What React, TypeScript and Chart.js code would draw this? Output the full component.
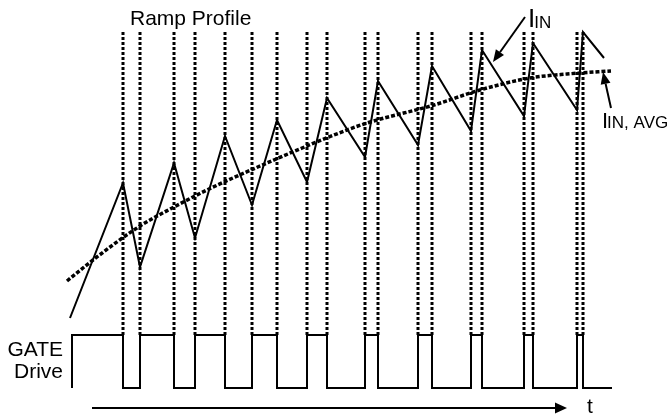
import React, { useEffect, useRef } from "react";
import { Chart, registerables } from "chart.js";

Chart.register(...registerables);

// Time axis (µs-like units), switching edges of the gate drive
const switchTimes = [0, 5.1, 6.8, 10.2, 12.3, 15.3, 18.0, 20.5, 23.5, 25.5, 29.3, 30.6, 34.6, 36.0, 39.9, 41.0, 45.2, 46.1, 50.5, 51.1];
// Gate level after each edge (1 = high, 0 = low)
const gateStates = [1, 0, 1, 0, 1, 0, 1, 0, 1, 0, 1, 0, 1, 0, 1, 0, 1, 0, 1, 0];
const gateEndTime = 54.0;

// Inductor / input current at each switching edge (after the first)
const currentAtSwitch = [1.52, 0.68, 1.72, 0.97, 1.99, 1.30, 2.15, 1.53, 2.37, 1.78, 2.54, 1.90, 2.69, 2.04, 2.85, 2.19, 2.92, 2.25, 3.03];
const currentStart = { t: -0.2, i: 0.17 };
const currentEnd = { t: 53.2, i: 2.77 };

// Average input current (dotted curve)
const avgTimes = [-0.5, 2.1, 6.8, 10.2, 13.5, 19.5, 26.2, 29.5, 36.2, 40.8, 45.8, 49.5, 53.9];
const avgCurrent = [0.54, 0.75, 1.09, 1.28, 1.45, 1.72, 2.00, 2.12, 2.30, 2.45, 2.57, 2.61, 2.64];

const verticalTop = 3.03;

export default function App() {
  const ref = useRef<HTMLCanvasElement | null>(null);

  useEffect(() => {
    if (!ref.current) return;

    const currentData: { x: number; y: number }[] = [{ x: currentStart.t, y: currentStart.i }];
    switchTimes.slice(1).forEach((t, k) => currentData.push({ x: t, y: currentAtSwitch[k] }));
    currentData.push({ x: currentEnd.t, y: currentEnd.i });

    const gateData: { x: number; y: number }[] = [{ x: switchTimes[0], y: 0 }];
    switchTimes.forEach((t, k) => gateData.push({ x: t, y: gateStates[k] }));
    gateData.push({ x: gateEndTime, y: gateStates[gateStates.length - 1] });

    const vertData: { x: number; y: number | null }[] = [];
    switchTimes.slice(1).forEach((t) => {
      vertData.push({ x: t, y: 0 });
      vertData.push({ x: t, y: verticalTop });
      vertData.push({ x: t, y: null });
    });

    const avgData = avgTimes.map((t, k) => ({ x: t, y: avgCurrent[k] }));

    const FONT = "'Liberation Sans', Arial, sans-serif";

    const annot = {
      id: "annot",
      afterDatasetsDraw(chart: any) {
        const ctx = chart.ctx as CanvasRenderingContext2D;
        const xs = chart.scales.x;
        const ys = chart.scales.y;
        const yg = chart.scales.yg;
        const px = (t: number) => xs.getPixelForValue(t);
        const py = (v: number) => ys.getPixelForValue(v);
        const pg = (v: number) => yg.getPixelForValue(v);

        const arrow = (x1: number, y1: number, x2: number, y2: number, len: number, hw: number, lw: number) => {
          const a = Math.atan2(y2 - y1, x2 - x1);
          const bx = x2 - len * Math.cos(a);
          const by = y2 - len * Math.sin(a);
          ctx.save();
          ctx.strokeStyle = "#000";
          ctx.fillStyle = "#000";
          ctx.lineWidth = lw;
          ctx.setLineDash([]);
          ctx.beginPath();
          ctx.moveTo(x1, y1);
          ctx.lineTo(bx, by);
          ctx.stroke();
          ctx.beginPath();
          ctx.moveTo(x2, y2);
          ctx.lineTo(bx + hw * Math.sin(a), by - hw * Math.cos(a));
          ctx.lineTo(bx - hw * Math.sin(a), by + hw * Math.cos(a));
          ctx.closePath();
          ctx.fill();
          ctx.restore();
        };

        // arrows
        arrow(px(45.3), py(3.18), px(42.1), py(2.73), 12, 5, 2);
        arrow(px(53.9), py(2.27), px(53.1), py(2.63), 12, 5, 2);
        arrow(px(2.0), pg(-0.377), px(49.5), pg(-0.377), 12, 5.5, 2);

        ctx.save();
        ctx.fillStyle = "#000";
        ctx.textBaseline = "alphabetic";
        ctx.font = `21px ${FONT}`;
        ctx.textAlign = "left";
        ctx.fillText("Ramp Profile", px(5.8), py(3.10));
        ctx.fillText("t", px(51.5), pg(-0.47));
        ctx.textAlign = "right";
        ctx.fillText("GATE", px(-0.9), pg(0.60));
        ctx.fillText("Drive", px(-0.9), pg(0.19));

        ctx.textAlign = "left";
        // I_IN label
        ctx.font = `26px ${FONT}`;
        const x1 = px(45.6);
        const b1 = py(3.085);
        ctx.fillText("I", x1, b1);
        const w1 = ctx.measureText("I").width;
        ctx.font = `17px ${FONT}`;
        ctx.fillText("IN", x1 + w1 - 1, b1 + 1);

        // I_IN,AVG label
        ctx.font = `22px ${FONT}`;
        const x2 = px(53.0);
        const b2 = py(2.07);
        ctx.fillText("I", x2, b2);
        const w2 = ctx.measureText("I").width;
        ctx.font = `17px ${FONT}`;
        ctx.fillText("IN, AVG", x2 + w2 - 1, b2);
        ctx.restore();
      },
    };

    const chart = new Chart(ref.current, {
      type: "line",
      data: {
        datasets: [
          {
            label: "IIN",
            data: currentData,
            borderColor: "#000",
            borderWidth: 2,
            pointRadius: 0,
            tension: 0,
            fill: false,
            yAxisID: "y",
          } as any,
          {
            label: "IIN,AVG",
            data: avgData,
            borderColor: "#000",
            borderWidth: 3.5,
            borderDash: [4, 2],
            pointRadius: 0,
            cubicInterpolationMode: "monotone",
            fill: false,
            yAxisID: "y",
          } as any,
          {
            label: "GATE",
            data: gateData,
            borderColor: "#000",
            borderWidth: 2,
            pointRadius: 0,
            stepped: "before",
            fill: false,
            yAxisID: "yg",
          } as any,
          {
            label: "edges",
            data: vertData,
            borderColor: "#000",
            borderWidth: 3,
            borderDash: [3, 2],
            pointRadius: 0,
            spanGaps: false,
            fill: false,
            yAxisID: "y",
          } as any,
        ],
      },
      options: {
        animation: false,
        responsive: true,
        maintainAspectRatio: false,
        layout: { padding: 0 },
        plugins: { legend: { display: false }, tooltip: { enabled: false } },
        events: [],
        scales: {
          x: { type: "linear", min: -7.2, max: 59.6, display: false },
          y: { type: "linear", min: -0.81, max: 3.35, display: false },
          yg: { type: "linear", min: -0.53, max: 7.32, display: false },
        },
      } as any,
      plugins: [annot],
    });

    return () => chart.destroy();
  }, []);

  return (
    <div style={{ position: "absolute", left: 0, top: 0, width: 668, height: 416, background: "#fff" }}>
      <canvas ref={ref} />
    </div>
  );
}
